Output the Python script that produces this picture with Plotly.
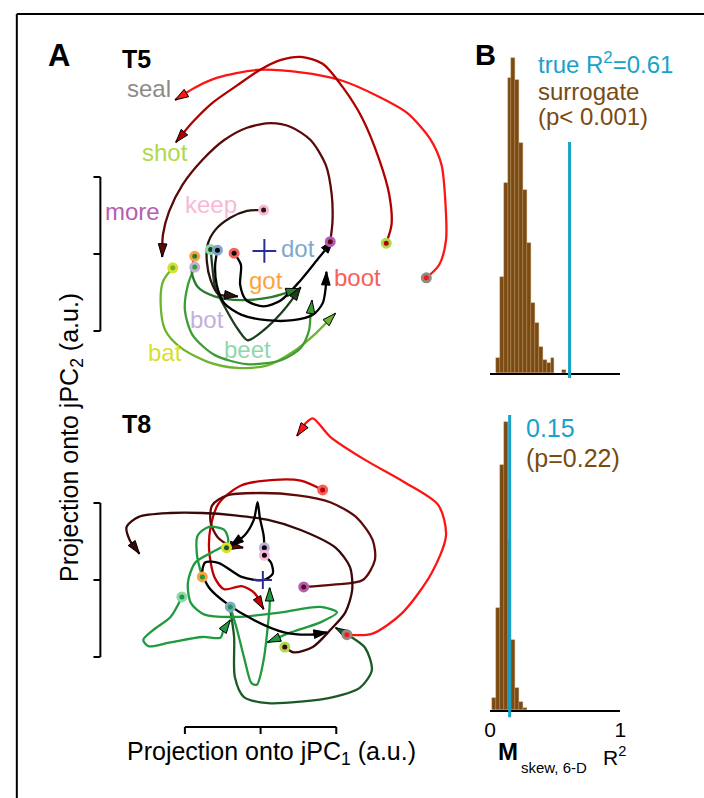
import plotly.graph_objects as go

W, H = 704, 798

# ---------------- DATA: neural trajectories (projection units, a.u.) ----------------
# T5
t5_seal_x = [2.19, 2.36, 2.45, 2.44, 2.39, 2.25, 1.94, 1.57, 1.05, 0.53, -0.05, -0.57, -0.87, -1.13]
t5_seal_y = [-0.31, -0.14, 0.18, 0.70, 1.16, 1.48, 1.83, 2.04, 2.26, 2.36, 2.39, 2.29, 2.16, 2.00]
t5_shot_x = [1.66, 1.73, 1.70, 1.57, 1.34, 1.09, 0.82, 0.53, 0.27, -0.01, -0.31, -0.64, -0.90, -1.12]
t5_shot_y = [0.14, 0.38, 0.77, 1.22, 1.77, 2.16, 2.47, 2.56, 2.52, 2.39, 2.19, 1.96, 1.71, 1.45]
t5_more_x = [0.92, 0.95, 0.94, 0.86, 0.66, 0.40, 0.14, -0.18, -0.48, -0.77, -1.03, -1.21, -1.29, -1.30]
t5_more_y = [0.16, 0.42, 0.77, 1.16, 1.48, 1.65, 1.70, 1.64, 1.48, 1.22, 0.90, 0.55, 0.25, -0.04]
t5_keep_x = [0.04, -0.18, -0.40, -0.60, -0.70, -0.71, -0.66, -0.56, -0.30]
t5_keep_y = [0.57, 0.56, 0.47, 0.31, 0.12, -0.10, -0.34, -0.52, -0.55]
t5_dot_x = [-0.57, -0.60, -0.58, -0.48, -0.25, 0.08, 0.43, 0.69, 0.82, 0.86, 0.87]
t5_dot_y = [0.05, -0.14, -0.40, -0.64, -0.79, -0.86, -0.86, -0.79, -0.64, -0.44, -0.23]
t5_boot_x = [-0.35, -0.26, -0.27, -0.19, 0.04, 0.27, 0.53, 0.77, 0.96]
t5_boot_y = [0.01, -0.14, -0.40, -0.60, -0.68, -0.60, -0.34, -0.05, 0.18]
t5_beet_x = [-0.66, -0.64, -0.60, -0.45, -0.29, -0.17, 0.04, 0.27, 0.44, 0.53]
t5_beet_y = [0.06, -0.14, -0.43, -0.73, -0.99, -1.12, -0.99, -0.77, -0.56, -0.43]
t5_got_x = [-0.87, -0.91, -0.83, -0.61, -0.25, 0.14, 0.51]
t5_got_y = [-0.03, -0.23, -0.43, -0.55, -0.60, -0.56, -0.45]
t5_bot_x = [-0.87, -0.96, -1.00, -0.90, -0.61, -0.18, 0.27, 0.53, 0.64, 0.66, 0.68]
t5_bot_y = [-0.17, -0.40, -0.73, -1.05, -1.31, -1.43, -1.38, -1.22, -0.99, -0.78, -0.60]
t5_bat_x = [-1.16, -1.29, -1.32, -1.26, -1.05, -0.70, -0.31, 0.08, 0.43, 0.73, 0.99]
t5_bat_y = [-0.18, -0.36, -0.66, -0.99, -1.22, -1.40, -1.48, -1.45, -1.27, -1.03, -0.77]
t5_origin = [0.05, 0.04]

# T8
t8_seal_x = [1.14, 1.47, 1.87, 2.26, 2.45, 2.35, 1.90, 1.38, 0.92, 0.69, 0.60, 0.48]
t8_seal_y = [-0.71, -0.70, -0.43, 0.09, 0.58, 0.97, 1.27, 1.56, 1.86, 2.10, 2.04, 1.87]
t8_boot_x = [0.82, 0.53, 0.18, -0.25, -0.55, -0.66, -0.68, -0.61, -0.48, -0.25, -0.08, 0.04]
t8_boot_y = [1.17, 1.29, 1.30, 1.23, 1.00, 0.69, 0.39, 0.04, -0.12, -0.08, -0.17, -0.38]
t8_more_x = [0.57, 0.96, 1.35, 1.51, 1.48, 1.27, 0.92, 0.49, 0.01, -0.44, -0.64, -0.66, -0.57, -0.40, -0.23]
t8_more_y = [-0.09, -0.06, 0.00, 0.26, 0.52, 0.81, 1.01, 1.10, 1.13, 1.10, 0.97, 0.75, 0.56, 0.45, 0.42]
t8_shot_x = [0.32, 0.44, 0.69, 0.92, 1.12, 1.21, 1.18, 0.99, 0.53, 0.10, -0.34, -0.77, -1.19, -1.61, -1.77, -1.73, -1.60]
t8_shot_y = [-0.87, -0.94, -0.87, -0.65, -0.42, -0.13, 0.17, 0.42, 0.65, 0.78, 0.84, 0.87, 0.87, 0.82, 0.69, 0.52, 0.34]
t8_bot_x = [0.05, 0.04, -0.01, -0.04, -0.09, -0.21, -0.40]
t8_bot_y = [0.42, 0.58, 0.81, 1.01, 0.78, 0.58, 0.44]
t8_keep_x = [0.05, 0.14, 0.16, 0.04, -0.25, -0.55, -0.73, -0.77, -0.68, -0.44, -0.09, 0.31, 0.66, 0.88]
t8_keep_y = [0.32, 0.22, 0.08, 0.00, 0.04, 0.22, 0.23, 0.10, -0.10, -0.31, -0.52, -0.68, -0.71, -0.68]
t8_beet_x = [-1.04, -1.19, -1.42, -1.55, -1.48, -1.19, -0.77, -0.53, -0.49, -0.40]
t8_beet_y = [-0.22, -0.48, -0.65, -0.78, -0.86, -0.81, -0.74, -0.75, -0.65, -0.52]
t8_got_x = [-0.77, -0.84, -0.83, -0.68, -0.48, -0.43, -0.64, -0.86, -0.96, -0.92, -0.74, -0.31, 0.27, 0.79, 1.01, 0.79, 0.40, 0.09]
t8_got_y = [0.04, 0.32, 0.58, 0.69, 0.65, 0.49, 0.36, 0.23, -0.03, -0.30, -0.45, -0.48, -0.42, -0.35, -0.42, -0.55, -0.68, -0.81]
t8_dot_x = [-0.40, -0.31, -0.21, -0.12, -0.05, 0.04, 0.09, 0.12, 0.12]
t8_dot_y = [-0.35, -0.65, -1.04, -1.34, -1.36, -1.04, -0.65, -0.32, -0.10]
t8_bat_x = [-0.40, -0.35, -0.34, -0.22, 0.10, 0.53, 0.96, 1.31, 1.47, 1.38, 1.18, 0.99]
t8_bat_y = [-0.39, -0.74, -1.26, -1.52, -1.60, -1.58, -1.52, -1.40, -1.17, -0.88, -0.73, -0.62]
t8_bat_onset = [-0.45, 0.42]
t8_origin = [0.03, 0.00]

# ---------------- DATA: R^2 histograms ----------------
hist_top_bins = [0.06, 0.09, 0.12, 0.15, 0.18, 0.21, 0.24, 0.27, 0.30, 0.33, 0.36, 0.39, 0.42, 0.45, 0.48, 0.57]
hist_top_counts = [15, 96, 190, 295, 315, 293, 230, 183, 130, 70, 50, 26, 13, 10, 15, 3]
hist_bot_bins = [0.03, 0.06, 0.09, 0.12, 0.15, 0.18, 0.21, 0.24, 0.27]
hist_bot_counts = [12, 102, 245, 288, 170, 70, 22, 8, 2]
true_r2_t5 = 0.61
true_r2_t8 = 0.15
bin_width = 0.03

# ---------------- styles ----------------
WORD = {"seal": "#8f8a85", "shot": "#aed94a", "more": "#b45db4", "keep": "#f8b8d6",
        "dot": "#80a8cc", "boot": "#f5605a", "got": "#fda33d", "bot": "#c2b0dc",
        "bat": "#d8df2c", "beet": "#8fd8ac"}
FONT = "Liberation Sans, Arial, Helvetica, sans-serif"
BROWN = "#7a4a12"
CYAN = "#19a2c8"

t5_set = [
    ("seal", t5_seal_x, t5_seal_y, "#ff1414", None),
    ("shot", t5_shot_x, t5_shot_y, "#b00000", None),
    ("more", t5_more_x, t5_more_y, "#5c0a0a", None),
    ("bat", t5_bat_x, t5_bat_y, "#6cb42e", None),
    ("bot", t5_bot_x, t5_bot_y, "#3d9c33", None),
    ("got", t5_got_x, t5_got_y, "#2b7a2b", None),
    ("beet", t5_beet_x, t5_beet_y, "#1e3d1e", None),
    ("keep", t5_keep_x, t5_keep_y, "#2a1410", None),
    ("dot", t5_dot_x, t5_dot_y, "#000000", None),
    ("boot", t5_boot_x, t5_boot_y, "#000000", None),
]
t8_set = [
    ("seal", t8_seal_x, t8_seal_y, "#ff1414", None),
    ("boot", t8_boot_x, t8_boot_y, "#c00000", None),
    ("more", t8_more_x, t8_more_y, "#600b0b", None),
    ("shot", t8_shot_x, t8_shot_y, "#3a0808", None),
    ("bat", t8_bat_x, t8_bat_y, "#1b5a25", t8_bat_onset),
    ("beet", t8_beet_x, t8_beet_y, "#1f9a3e", None),
    ("got", t8_got_x, t8_got_y, "#1f9a3e", None),
    ("dot", t8_dot_x, t8_dot_y, "#1f9a3e", None),
    ("bot", t8_bot_x, t8_bot_y, "#000000", None),
    ("keep", t8_keep_x, t8_keep_y, "#000000", None),
]

fig = go.Figure()


def draw_panel(traj_set, origin, xa, ya, cross_size):
    for word, x, y, col, onset in traj_set:
        fig.add_trace(go.Scatter(x=x, y=y, mode="lines", xaxis=xa, yaxis=ya,
                                 line=dict(color=col, width=2.3, shape="spline", smoothing=0.8),
                                 hoverinfo="skip"))
    for word, x, y, col, onset in traj_set:
        fig.add_trace(go.Scatter(x=x[-2:], y=y[-2:], mode="markers", xaxis=xa, yaxis=ya,
                                 marker=dict(symbol="arrow", size=14, angleref="previous", color=col,
                                             opacity=[0, 1], line=dict(color="black", width=1)),
                                 hoverinfo="skip"))
    for word, x, y, col, onset in traj_set:
        ox, oy = (onset if onset else (x[0], y[0]))
        fig.add_trace(go.Scatter(x=[ox], y=[oy], mode="markers", xaxis=xa, yaxis=ya,
                                 marker=dict(symbol="circle", size=8, color=col,
                                             line=dict(color=WORD[word], width=3)),
                                 hoverinfo="skip"))
    fig.add_trace(go.Scatter(x=[origin[0]], y=[origin[1]], mode="markers", xaxis=xa, yaxis=ya,
                             marker=dict(symbol="cross-thin", size=cross_size,
                                         line=dict(color="#2d2d94", width=2)),
                             hoverinfo="skip"))


draw_panel(t5_set, t5_origin, "x", "y", 17)
draw_panel(t8_set, t8_origin, "x2", "y2", 13)

# histograms
fig.add_trace(go.Bar(x=hist_top_bins, y=hist_top_counts, width=bin_width, xaxis="x3", yaxis="y3",
                     marker=dict(color=BROWN, line=dict(color="rgba(190,150,100,0.6)", width=0.6)),
                     hoverinfo="skip"))
fig.add_trace(go.Bar(x=hist_bot_bins, y=hist_bot_counts, width=bin_width, xaxis="x4", yaxis="y4",
                     marker=dict(color=BROWN, line=dict(color="rgba(190,150,100,0.6)", width=0.6)),
                     hoverinfo="skip"))

# ---------------- layout ----------------
PX = 77.0  # pixels per a.u.


def px(x):
    return x / W


def py(y):
    return 1 - y / H


hidden = dict(visible=False, showgrid=False, zeroline=False)
xdom = [px(40), px(470)]
xrng = [(40 - 259) / PX, (470 - 259) / PX]
fig.update_layout(
    width=W, height=H, margin=dict(l=0, r=0, t=0, b=0),
    paper_bgcolor="white", plot_bgcolor="rgba(0,0,0,0)", showlegend=False,
    font=dict(family=FONT, color="black"),
    xaxis=dict(domain=xdom, range=xrng, anchor="y", **hidden),
    yaxis=dict(domain=[py(378), py(30)], range=[(254 - 378) / PX, (254 - 30) / PX], anchor="x", **hidden),
    xaxis2=dict(domain=xdom, range=xrng, anchor="y2", **hidden),
    yaxis2=dict(domain=[py(740), py(385)], range=[(580 - 740) / PX, (580 - 385) / PX], anchor="x2", **hidden),
    xaxis3=dict(domain=[px(492.5), px(625)], range=[0, 1], anchor="y3", showline=True, linewidth=2,
                linecolor="black", showticklabels=False, ticks="", showgrid=False, zeroline=False),
    yaxis3=dict(domain=[py(373), py(40)], range=[0, 333], anchor="x3", **hidden),
    xaxis4=dict(domain=[px(492.5), px(625)], range=[0, 1], anchor="y4", showline=True, linewidth=2,
                linecolor="black", tickvals=[0, 1], ticktext=["0", "1"], ticks="",
                tickfont=dict(size=21, family=FONT),
                showgrid=False, zeroline=False),
    yaxis4=dict(domain=[py(710), py(400)], range=[0, 310], anchor="x4", **hidden),
    bargap=0,
)

shapes = []
# frame
shapes.append(dict(type="line", xref="paper", yref="paper", x0=px(11), x1=1.02, y0=py(14), y1=py(14),
                   line=dict(color="black", width=2)))
shapes.append(dict(type="line", xref="paper", yref="paper", x0=px(11), x1=px(11), y0=py(14), y1=-0.02,
                   line=dict(color="black", width=2)))
# scale bars (+-1 a.u.)
sb_x = (96 - 259) / PX
tick = 7 / PX
for xa, ya in (("x", "y"), ("x2", "y2")):
    shapes.append(dict(type="line", xref=xa, yref=ya, x0=sb_x, x1=sb_x, y0=-1, y1=1,
                       line=dict(color="black", width=2)))
    for yy in (-1, 0, 1):
        shapes.append(dict(type="line", xref=xa, yref=ya, x0=sb_x - tick, x1=sb_x, y0=yy, y1=yy,
                           line=dict(color="black", width=2)))
sb_y = (580 - 727) / PX
shapes.append(dict(type="line", xref="x2", yref="y2", x0=-1, x1=1, y0=sb_y, y1=sb_y,
                   line=dict(color="black", width=2)))
for xx in (-1, 0, 1):
    shapes.append(dict(type="line", xref="x2", yref="y2", x0=xx, x1=xx, y0=sb_y, y1=sb_y - tick,
                       line=dict(color="black", width=2)))
# true R^2 lines
shapes.append(dict(type="line", xref="x3", yref="y3 domain", x0=true_r2_t5, x1=true_r2_t5,
                   y0=-0.015, y1=0.694, line=dict(color=CYAN, width=3), layer="above"))
shapes.append(dict(type="line", xref="x4", yref="y4 domain", x0=true_r2_t8, x1=true_r2_t8,
                   y0=-0.023, y1=0.952, line=dict(color=CYAN, width=3), layer="above"))
fig.update_layout(shapes=shapes)

ann = []


def text(t, x, y, size, color="black", xanchor="center", bold=False, angle=0):
    if bold:
        t = "<b>" + t + "</b>"
    ann.append(dict(text=t, x=px(x), y=py(y), xref="paper", yref="paper", showarrow=False,
                    xanchor=xanchor, yanchor="middle", textangle=angle,
                    font=dict(size=size, color=color, family=FONT)))


text("A", 54, 55, 31, bold=True)
text("B", 488, 55, 29, bold=True)
text("T5", 133, 59, 25, bold=True)
text("T8", 133, 424, 25, bold=True)
labels_t5 = [("seal", 145, 88), ("shot", 162, 153), ("more", 129, 211), ("keep", 209, 204),
             ("dot", 297, 248), ("boot", 358, 277), ("got", 265, 281), ("bot", 204, 319),
             ("bat", 162, 352), ("beet", 246, 349)]
for w, lx, ly in labels_t5:
    text(w, lx, ly, 24, WORD[w])
text("true R<sup>2</sup>=0.61", 539, 63, 24, CYAN, xanchor="left")
text("surrogate", 539, 91, 24, BROWN, xanchor="left")
text("(p< 0.001)", 539, 117, 24, BROWN, xanchor="left")
text("0.15", 527, 428, 25, CYAN, xanchor="left")
text("(p=0.22)", 527, 458, 25, BROWN, xanchor="left")
text("M", 511, 751, 24, bold=True)
text("skew, 6-D", 522, 767, 15, xanchor="left")
text("R<sup>2</sup>", 619, 756, 21)
text("Projection onto jPC<sub>1</sub> (a.u.)", 270, 753, 25)
text("Projection onto jPC<sub>2</sub> (a.u.)", 66, 437, 25, angle=-90)
fig.update_layout(annotations=ann)

fig.write_html("out.html", config={"displayModeBar": False},
               post_script="document.body.style.margin='0px';")
